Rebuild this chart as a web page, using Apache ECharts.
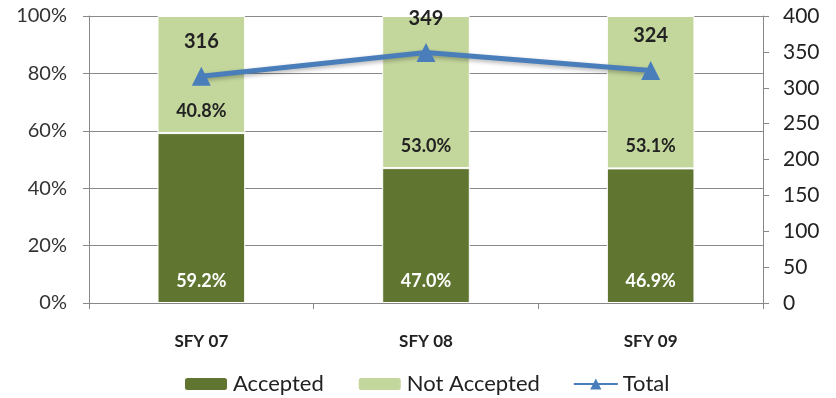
<!DOCTYPE html>
<html>
<head>
<meta charset="utf-8">
<script src="https://cdn.jsdelivr.net/npm/echarts@6/dist/echarts.min.js"></script>
<style>
  html, body { margin: 0; padding: 0; background: #fff; }
  #chart { width: 836px; height: 398px; }
</style>
</head>
<body>
<div id="chart"></div>
<script>
const categories = ['SFY 07', 'SFY 08', 'SFY 09'];
const accepted = [59.2, 47.0, 46.9];
const notAccepted = [40.8, 53.0, 53.1];
const totals = [316, 349, 324];

const FONT = 'Lato, "Open Sans", sans-serif';
const chart = echarts.init(document.getElementById('chart'));

chart.setOption({
  animation: false,
  textStyle: { fontFamily: FONT },
  grid: { left: 89, right: 73, top: 16, bottom: 95 },
  legend: {
    top: 368,
    left: 178,
    itemWidth: 44,
    itemHeight: 14,
    itemGap: 33,
    textStyle: { fontSize: 22, color: '#222', fontFamily: FONT },
    data: [
      { name: 'Accepted' },
      { name: 'Not Accepted' },
      { name: 'Total', itemWidth: 50 }
    ]
  },
  xAxis: {
    type: 'category',
    data: categories,
    axisLine: { lineStyle: { color: '#888', width: 1 } },
    axisTick: { show: true, length: 6, lineStyle: { color: '#888' } },
    axisLabel: { fontSize: 17, fontWeight: 'bold', color: '#222', margin: 30 }
  },
  yAxis: [
    {
      type: 'value',
      min: 0, max: 100, interval: 20,
      axisLine: { show: true, lineStyle: { color: '#888' } },
      axisTick: { show: true, length: 6, lineStyle: { color: '#888' } },
      axisLabel: { formatter: '{value}%', fontSize: 20, color: '#333', margin: 22 },
      splitLine: { lineStyle: { color: '#8a8a8a', width: 1 } }
    },
    {
      type: 'value',
      min: 0, max: 400, interval: 50,
      axisLine: { show: true, lineStyle: { color: '#888' } },
      axisTick: { show: true, length: 6, lineStyle: { color: '#888' } },
      axisLabel: { fontSize: 21, color: '#222', margin: 20 },
      splitLine: { show: false }
    }
  ],
  series: [
    {
      name: 'Accepted',
      type: 'bar',
      stack: 'share',
      barWidth: '39%',
      data: accepted,
      itemStyle: { color: '#5f7530', borderColor: '#fff', borderWidth: 1 },
      label: {
        show: true, position: 'insideBottom', distance: 13,
        formatter: p => p.value.toFixed(1) + '%',
        color: '#fff', fontSize: 18, fontWeight: 'bold'
      }
    },
    {
      name: 'Not Accepted',
      type: 'bar',
      stack: 'share',
      data: notAccepted,
      itemStyle: { color: '#c3d69b', borderColor: '#fff', borderWidth: 1 },
      label: {
        show: true, position: 'insideBottom', distance: 13,
        formatter: p => p.value.toFixed(1) + '%',
        color: '#222', fontSize: 18, fontWeight: 'bold'
      }
    },
    {
      name: 'Total',
      type: 'line',
      yAxisIndex: 1,
      data: totals,
      symbol: 'triangle',
      symbolSize: 19,
      lineStyle: { color: '#4a7ebb', width: 5, shadowColor: 'rgba(0,0,0,0.3)', shadowBlur: 4, shadowOffsetY: 2 },
      itemStyle: { color: '#4a7ebb' },
      label: {
        show: true, position: 'top', distance: 15,
        color: '#222', fontSize: 20, fontWeight: 'bold'
      }
    }
  ]
});
</script>
</body>
</html>
